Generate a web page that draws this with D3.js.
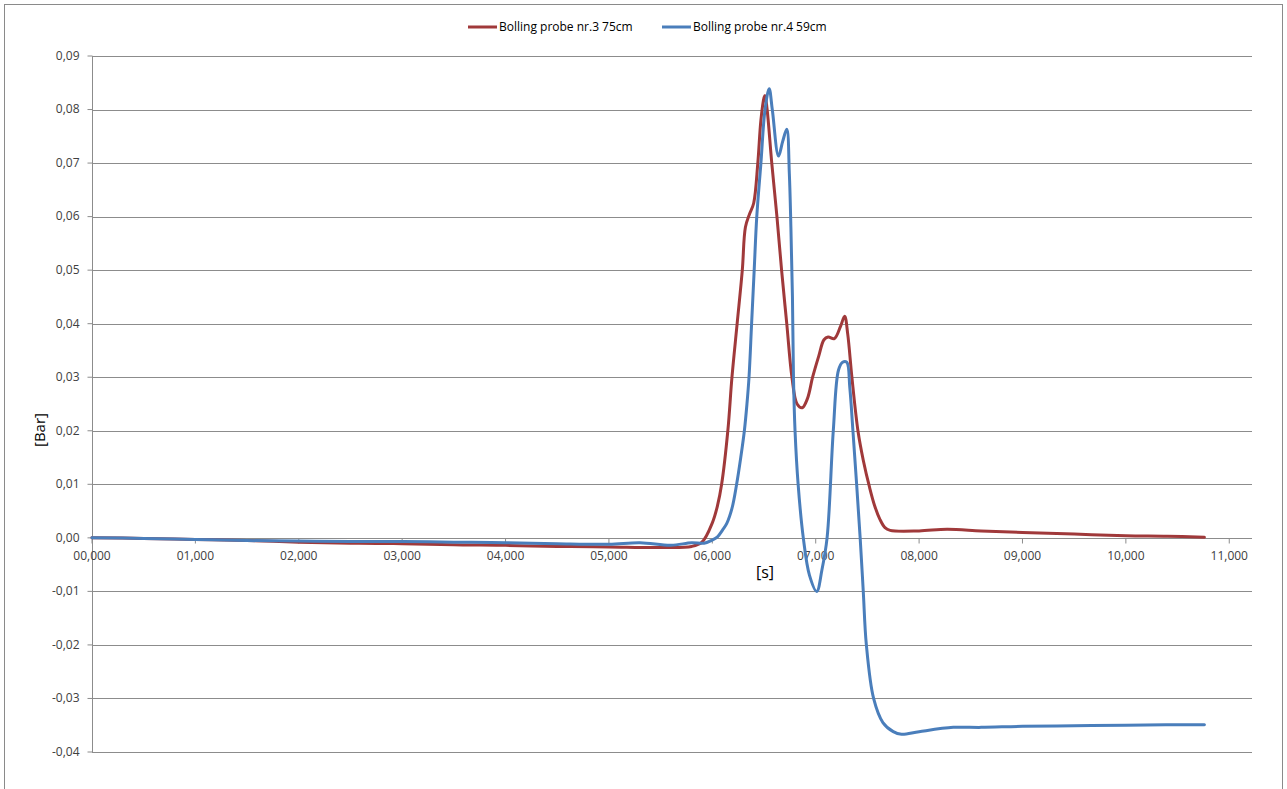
<!DOCTYPE html>
<html>
<head>
<meta charset="utf-8">
<script src="https://cdn.jsdelivr.net/npm/d3@7"></script>
<style>
  body { margin:0; background:#fff; }
  text { font-family: 'Open Sans', 'Noto Sans', sans-serif; }
</style>
</head>
<body>
<div class="viz"></div>
<script>
const width = 1287;
const height = 789;

// series names
const seriesNames = ['Bolling probe nr.3 75cm', 'Bolling probe nr.4 59cm'];

// probe nr.3 (time [s], pressure [Bar])
const probe3T = [0,0.5,1.0,1.5,2.0,2.5,3.0,3.5,4.0,4.5,5.0,5.5,5.8,5.9,6.0,6.05,6.09,6.15,6.19,6.24,6.29,6.32,6.36,6.40,6.44,6.47,6.50,6.51,6.53,6.575,6.625,6.67,6.72,6.77,6.82,6.87,6.92,6.97,7.03,7.08,7.12,7.18,7.24,7.28,7.31,7.35,7.41,7.46,7.52,7.57,7.62,7.67,7.72,8.0,8.27,8.6,9.0,9.5,10.0,10.4,10.76];
const probe3V = [0,-0.0001,-0.0003,-0.0005,-0.0008,-0.0010,-0.0011,-0.0013,-0.0014,-0.0016,-0.0017,-0.0018,-0.0016,-0.0008,0.0028,0.006,0.010,0.020,0.030,0.040,0.050,0.058,0.0605,0.0625,0.070,0.078,0.0822,0.0826,0.080,0.070,0.060,0.050,0.040,0.030,0.025,0.0243,0.026,0.030,0.034,0.037,0.0375,0.0372,0.0395,0.0414,0.038,0.030,0.0198,0.0145,0.0095,0.0060,0.0035,0.0019,0.0014,0.0013,0.0016,0.0013,0.0010,0.0007,0.0004,0.0003,0.0001];

// probe nr.4
const probe4T = [0,0.5,1.0,1.5,2.0,2.5,3.0,3.5,4.0,4.5,5.0,5.3,5.6,5.8,5.92,6.0,6.05,6.1,6.14,6.19,6.235,6.275,6.31,6.335,6.355,6.38,6.405,6.43,6.47,6.51,6.55,6.58,6.64,6.68,6.72,6.745,6.76,6.775,6.785,6.80,6.83,6.88,6.94,7.01,7.06,7.11,7.17,7.22,7.26,7.30,7.33,7.36,7.43,7.46,7.49,7.56,7.65,7.75,7.83,8.0,8.33,8.6,9.0,9.5,10.0,10.4,10.76];
const probe4V = [0,-0.0001,-0.0003,-0.0005,-0.0006,-0.0007,-0.0007,-0.0008,-0.0009,-0.0011,-0.0012,-0.0009,-0.0014,-0.0009,-0.0010,-0.0004,0.0002,0.0015,0.0027,0.0055,0.010,0.015,0.020,0.025,0.030,0.040,0.050,0.060,0.070,0.080,0.0839,0.080,0.0713,0.074,0.0763,0.068,0.058,0.045,0.030,0.020,0.010,0.000,-0.007,-0.0100,-0.006,0.000,0.020,0.0313,0.0328,0.0328,0.028,0.020,0.000,-0.010,-0.020,-0.030,-0.0345,-0.0362,-0.0367,-0.0362,-0.0354,-0.0354,-0.0352,-0.0351,-0.0350,-0.0349,-0.0349];

const xTicks = [0,1,2,3,4,5,6,7,8,9,10,11];
const yTicks = [-0.04,-0.03,-0.02,-0.01,0,0.01,0.02,0.03,0.04,0.05,0.06,0.07,0.08,0.09];

const colours = ['#a0393a', '#4a7ebb'];
const gridColour = '#8c8c8c';

const main = () => {
  const svg = d3.select('.viz').append('svg')
    .attr('width', width)
    .attr('height', height);

  svg.append('rect')
    .attr('x', 4.5).attr('y', 4.5)
    .attr('width', 1278).attr('height', 800)
    .attr('fill', '#fff')
    .attr('stroke', '#8a8a8a');

  const xScale = d3.scaleLinear()
    .domain([0, 11.22])
    .range([92, 1252]);

  const yScale = d3.scaleLinear()
    .domain([-0.04, 0.09])
    .range([752, 56]);

  const fmtY = v => d3.format('.2f')(v).replace('.', ',').replace('−', '-');
  const fmtX = v => d3.format('02d')(v) + ',000';

  // gridlines
  svg.append('g')
    .selectAll('line.grid')
    .data(yTicks)
    .enter()
    .append('line')
      .attr('class', 'grid')
      .attr('x1', xScale(0))
      .attr('x2', xScale.range()[1])
      .attr('y1', d => Math.round(yScale(d)) + 0.5)
      .attr('y2', d => Math.round(yScale(d)) + 0.5)
      .attr('stroke', gridColour)
      .attr('stroke-width', 1);

  // y axis
  const yAxis = svg.append('g')
    .attr('transform', `translate(${Math.round(xScale(0)) + 0.5},0)`)
    .call(d3.axisLeft(yScale).tickValues(yTicks).tickFormat(fmtY).tickSize(5).tickPadding(8).offset(0));
  yAxis.select('.domain').attr('stroke', gridColour).attr('d', `M0,${yScale(0.09)}V${yScale(-0.04)}`);
  yAxis.selectAll('.tick line').attr('stroke', gridColour);
  yAxis.selectAll('.tick text')
    .attr('fill', '#404040')
    .style('font-size', '12px')
    .style('font-family', "'Open Sans', sans-serif");

  // x axis on the zero line
  const xAxis = svg.append('g')
    .attr('transform', `translate(0,${Math.round(yScale(0)) + 0.5})`)
    .call(d3.axisBottom(xScale).tickValues(xTicks).tickFormat(fmtX).tickSize(5).tickPadding(8).offset(0));
  xAxis.select('.domain').attr('stroke', gridColour).attr('d', `M${xScale(0)},0H${xScale.range()[1]}`);
  xAxis.selectAll('.tick line').attr('stroke', gridColour);
  xAxis.selectAll('.tick text')
    .attr('fill', '#404040')
    .style('font-size', '12px')
    .style('font-family', "'Open Sans', sans-serif");

  // series lines
  const seriesData = [
    probe3T.map((t, i) => [t, probe3V[i]]),
    probe4T.map((t, i) => [t, probe4V[i]])
  ];

  const line = d3.line()
    .x(d => xScale(d[0]))
    .y(d => yScale(d[1]))
    .curve(d3.curveCatmullRom.alpha(0.5));

  svg.append('g')
    .selectAll('path.series')
    .data(seriesData)
    .enter()
    .append('path')
      .attr('class', 'series')
      .attr('d', line)
      .attr('fill', 'none')
      .attr('stroke', (d, i) => colours[i])
      .attr('stroke-width', 3)
      .attr('stroke-linejoin', 'round')
      .attr('stroke-linecap', 'round');

  // axis titles
  svg.append('text')
    .attr('transform', 'translate(45,430) rotate(-90)')
    .attr('text-anchor', 'middle')
    .attr('fill', '#000')
    .style('font-size', '15px')
    .text('[Bar]');

  svg.append('text')
    .attr('x', 765)
    .attr('y', 578)
    .attr('text-anchor', 'middle')
    .attr('fill', '#000')
    .style('font-size', '16px')
    .text('[s]');

  // legend
  const legendX = [468, 662];
  const legend = svg.append('g')
    .selectAll('g.legend')
    .data(seriesNames)
    .enter()
    .append('g')
      .attr('class', 'legend')
      .attr('transform', (d, i) => `translate(${legendX[i]},27)`);

  legend.append('line')
    .attr('x1', 0).attr('x2', 29)
    .attr('y1', 0).attr('y2', 0)
    .attr('stroke', (d, i) => colours[i])
    .attr('stroke-width', 3);

  legend.append('text')
    .attr('x', 31)
    .attr('y', 4)
    .attr('fill', '#000')
    .style('font-size', '12px')
    .text(d => d);
}

window.onload = main;
</script>
</body>
</html>
